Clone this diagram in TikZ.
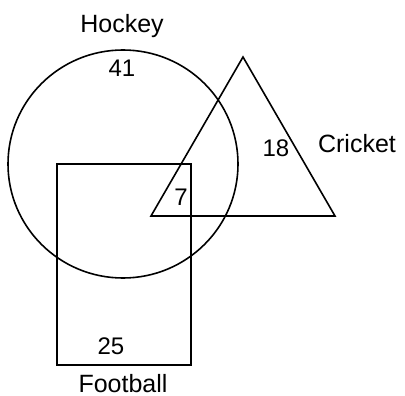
\documentclass[tikz,border=0pt]{standalone}
\usepackage{fontspec}
\setmainfont{Liberation Sans}
\usetikzlibrary{positioning}

\tikzset{
  setline/.style={line width=1.6pt, black},
  setname/.style={font=\fontsize{25}{27}\selectfont, inner sep=0pt, anchor=base},
  setcount/.style={font=\fontsize{24}{26}\selectfont, inner sep=0pt, anchor=base}
}

\begin{document}
\begin{tikzpicture}[x=1pt, y=-1pt]
  \useasboundingbox (0,0) rectangle (405,396);
  % the three sets
  \draw[setline] (123,164) ellipse [x radius=115, y radius=114];
  \draw[setline] (243,57) -- (335,216) -- (151,216) -- cycle;
  \draw[setline] (57,164) rectangle (191,365);
  % names
  \node[setname] (hockey) at (122,33) {Hockey};
  \node[setname] (cricket) at (357,153) {Cricket};
  \node[setname] (football) at (123,392) {Football};
  % counts
  \node[setcount] (onlyhockey) at (122,77) {41};
  \node[setcount] (onlycricket) at (276,157) {18};
  \node[setcount] (allthree) at (181,205) {7};
  \node[setcount] (onlyfootball) at (111,354) {25};
\end{tikzpicture}
\end{document}
